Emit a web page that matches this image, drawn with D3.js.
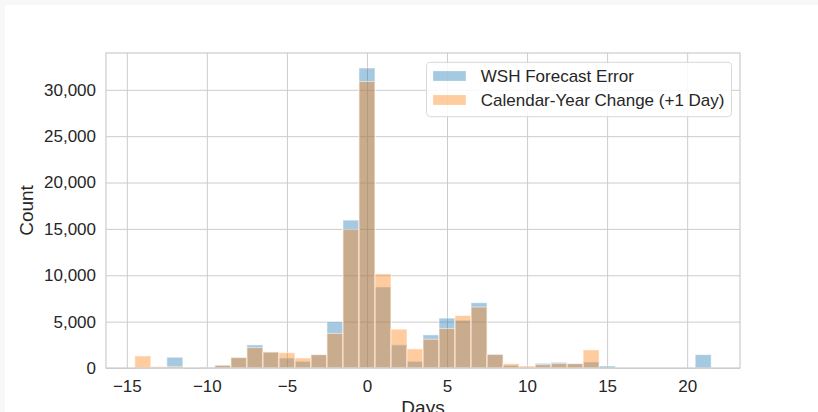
<!DOCTYPE html>
<html>
<head>
<meta charset="utf-8">
<script src="https://cdn.jsdelivr.net/npm/d3@7"></script>
<style>
    html, body {
        margin: 0;
        padding: 0;
        background: #f8f8f8;
        overflow: hidden;
    }
    #chart text {
        font-family: 'Liberation Sans', Arial, sans-serif;
        fill: #262626;
    }
</style>
</head>
<body>
<div id="chart"></div>
<script>
'use strict';

// bin centres (days), one bin per day
let days = [-14, -13, -12, -11, -10, -9, -8, -7, -6, -5, -4, -3, -2, -1, 0, 1, 2, 3, 4, 5, 6, 7,
    8, 9, 10, 11, 12, 13, 14, 15, 16, 17, 18, 19, 20, 21];

// counts per bin
let wshError = [0, 0, 1160, 0, 60, 330, 1150, 2490, 1700, 1080, 720, 1440, 4990, 15950, 32350, 8740,
    2490, 720, 3570, 5380, 5150, 7040, 1500, 290, 0, 505, 610, 470, 650, 215, 0, 0, 0, 0, 0, 1440];
let calendarChange = [1300, 140, 150, 0, 0, 280, 1120, 2200, 1740, 1650, 1080, 1440, 3730, 14950, 30900, 10150,
    4190, 2060, 3100, 4250, 5660, 6570, 1450, 470, 215, 360, 470, 470, 1950, 0, 0, 0, 0, 0, 0, 0];

let seriesNames = ['WSH Forecast Error', 'Calendar-Year Change (+1 Day)'];
let seriesColors = ['#1f77b4', '#ff7f0e'];

let xTicks = [-15, -10, -5, 0, 5, 10, 15, 20];
let yTicks = [0, 5000, 10000, 15000, 20000, 25000, 30000];

let fullWidth = 818,
    fullHeight = 412,
    margin = {
        top: 53,
        right: 78,
        bottom: 44,
        left: 106
    };
let width = fullWidth - margin.left - margin.right;
let height = fullHeight - margin.top - margin.bottom;

let svg = d3.select('#chart')
    .append('svg')
    .attr('width', fullWidth)
    .attr('height', fullHeight)
    .style('display', 'block');

// white figure card
svg.append('rect')
    .attr('x', 5)
    .attr('y', 5)
    .attr('width', fullWidth - 5)
    .attr('height', fullHeight)
    .attr('fill', '#ffffff');

let g = svg.append('g')
    .attr('transform', 'translate(' + margin.left + ',' + margin.top + ')');

// scales, with 5% padding like matplotlib autoscale
let xMin = d3.min(days) - 0.5,
    xMax = d3.max(days) + 0.5,
    xPad = (xMax - xMin) * 0.05;
let x = d3.scaleLinear().domain([xMin - xPad, xMax + xPad]).range([0, width]);

let yMax = d3.max(wshError.concat(calendarChange));
let y = d3.scaleLinear().domain([0, yMax * 1.05]).range([height, 0]);

// grid
let xAxis = d3.axisBottom(x).tickValues(xTicks).tickSize(-height).tickPadding(11.5).tickFormat(d3.format('d'));
let yAxis = d3.axisLeft(y).tickValues(yTicks).tickSize(-width).tickPadding(10).tickFormat(d3.format(','));

let gXaxis = g.append('g')
    .attr('class', 'axis x-axis')
    .attr('transform', 'translate(0,' + height + ')')
    .call(xAxis);

let gYaxis = g.append('g')
    .attr('class', 'axis y-axis')
    .call(yAxis);

[gXaxis, gYaxis].forEach(function(ax) {
    ax.select('.domain').remove();
    ax.selectAll('.tick line')
        .attr('stroke', '#cccccc')
        .attr('stroke-width', 1);
    ax.selectAll('.tick text')
        .style('font-size', '17px');
});

// bars: blue first, orange on top
let series = [wshError, calendarChange];
series.forEach(function(values, i) {
    g.append('g')
        .attr('class', 'bars s' + i)
        .selectAll('rect')
        .data(values.map(function(v, j) {
            return {day: days[j], count: v};
        }).filter(function(d) {
            return d.count > 0;
        }))
        .enter().append('rect')
        .attr('x', function(d) {
            return x(d.day - 0.5);
        })
        .attr('width', function(d) {
            return x(d.day + 0.5) - x(d.day - 0.5);
        })
        .attr('y', function(d) {
            return y(d.count);
        })
        .attr('height', function(d) {
            return y(0) - y(d.count);
        })
        .style('fill', seriesColors[i])
        .style('fill-opacity', 0.4)
        .style('stroke', '#ffffff')
        .style('stroke-opacity', 0.55)
        .style('stroke-width', 1);
});

// spines
g.append('rect')
    .attr('x', 0)
    .attr('y', 0)
    .attr('width', width)
    .attr('height', height)
    .attr('fill', 'none')
    .attr('stroke', '#cccccc')
    .attr('stroke-width', 1.2);

// axis labels
g.append('text')
    .attr('x', width / 2)
    .attr('y', height + 45.5)
    .attr('text-anchor', 'middle')
    .style('font-size', '19px')
    .text('Days');

g.append('text')
    .attr('transform', 'translate(' + (33 - margin.left) + ',' + (height / 2) + ') rotate(-90)')
    .attr('text-anchor', 'middle')
    .style('font-size', '19px')
    .text('Count');

// legend
let legend = g.append('g')
    .attr('transform', 'translate(' + (width - 313.5) + ',9.3)');

legend.append('rect')
    .attr('width', 305)
    .attr('height', 54.4)
    .attr('rx', 4)
    .attr('fill', '#ffffff')
    .attr('fill-opacity', 0.85)
    .attr('stroke', '#d8d8d8')
    .attr('stroke-width', 1);

seriesNames.forEach(function(name, i) {
    let row = legend.append('g')
        .attr('transform', 'translate(0,' + (13.7 + i * 24) + ')');
    row.append('rect')
        .attr('x', 6.6)
        .attr('y', -4.9)
        .attr('width', 32.7)
        .attr('height', 9.8)
        .style('fill', seriesColors[i])
        .style('fill-opacity', 0.4);
    row.append('text')
        .attr('x', 54.3)
        .attr('dy', '0.35em')
        .style('font-size', '17px')
        .text(name);
});
</script>
</body>
</html>
